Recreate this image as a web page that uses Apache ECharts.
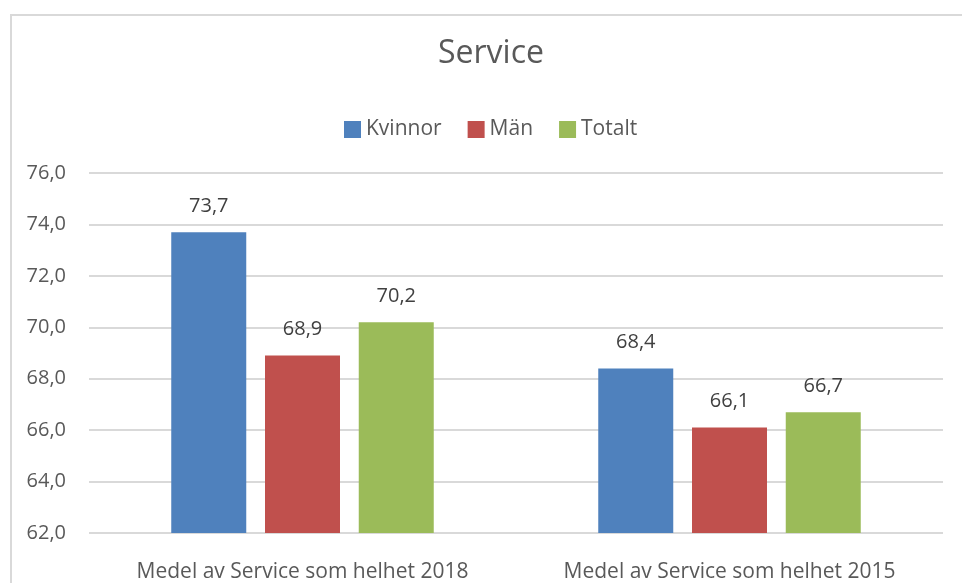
<!DOCTYPE html>
<html>
<head>
<meta charset="utf-8">
<script src="https://cdn.jsdelivr.net/npm/echarts@6/dist/echarts.min.js"></script>
<style>
  html, body { margin: 0; padding: 0; background: #fff; }
  #chart { width: 962px; height: 583px; }
</style>
</head>
<body>
<div id="chart"></div>
<script>
const categories = ['Medel av Service som helhet 2018', 'Medel av Service som helhet 2015']
const kvinnor = [73.7, 68.4]
const man = [68.9, 66.1]
const totalt = [70.2, 66.7]

const font = 'Open Sans'
const fmt = v => v.toFixed(1).replace('.', ',')

const label = {
  show: true,
  position: 'top',
  distance: 16,
  color: '#404040',
  fontFamily: font,
  fontSize: 20,
  formatter: p => fmt(p.value)
}

var myChart = echarts.init(document.getElementById('chart'))

myChart.setOption({
  animation: false,
  title: {
    text: 'Service',
    left: 438,
    top: 38,
    padding: 0,
    textStyle: { color: '#595959', fontFamily: font, fontSize: 32, fontWeight: 'normal' }
  },
  legend: {
    top: 119,
    left: 344,
    padding: 0,
    itemWidth: 17,
    itemHeight: 17,
    itemGap: 26,
    icon: 'rect',
    textStyle: { color: '#595959', fontFamily: font, fontSize: 21 },
    data: ['Kvinnor', 'Män', 'Totalt']
  },
  graphic: [{
    type: 'rect',
    silent: true,
    shape: { x: 11, y: 15, width: 1000, height: 700 },
    style: { fill: 'none', stroke: '#d9d9d9', lineWidth: 2 }
  }],
  grid: { left: 89, right: 19, top: 173, bottom: 50 },
  xAxis: {
    type: 'category',
    data: categories,
    axisLine: { show: false },
    axisTick: { show: false },
    axisLabel: { interval: 0, hideOverlap: false, color: '#595959', fontFamily: font, fontSize: 21, margin: 29 }
  },
  yAxis: {
    type: 'value',
    min: 62,
    max: 76,
    interval: 2,
    axisLine: { show: false },
    axisTick: { show: false },
    splitLine: { lineStyle: { color: '#d9d9d9', width: 2 } },
    axisLabel: { color: '#595959', fontFamily: font, fontSize: 20, margin: 23, formatter: fmt }
  },
  series: [
    { name: 'Kvinnor', type: 'bar', data: kvinnor, barWidth: 75, barGap: '25%', itemStyle: { color: '#4f81bd' }, label },
    { name: 'Män', type: 'bar', data: man, barWidth: 75, itemStyle: { color: '#c0504d' }, label },
    { name: 'Totalt', type: 'bar', data: totalt, barWidth: 75, itemStyle: { color: '#9bbb59' }, label }
  ]
})
</script>
</body>
</html>
